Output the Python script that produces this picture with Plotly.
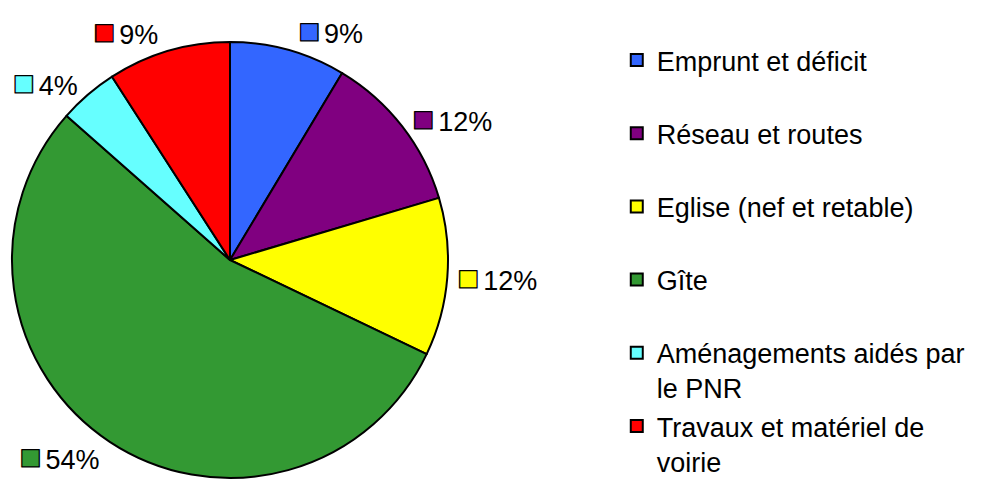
import plotly.graph_objects as go

labels = ["Emprunt et déficit", "Réseau et routes", "Eglise (nef et retable)", "Gîte",
          "Aménagements aidés par<br>le PNR", "Travaux et matériel de<br>voirie"]
values = [8.6, 11.8, 11.7, 54.4, 4.4, 9.1]
colors = ["#3366FF", "#800080", "#FFFF00", "#339933", "#66FFFF", "#FF0000"]

# pad single-line legend entries to two lines so every legend slot has the same height
legend_labels = [l if "<br>" in l else l + "<br> " for l in labels]
squares = ['<span style="font-size:36px;color:%s;stroke:black;stroke-width:1.3px">■</span>'
           '<span style="font-size:14px"> </span>' % c for c in colors]

fig = go.Figure(go.Pie(
    labels=legend_labels,
    values=values,
    text=squares,
    texttemplate="%{text}%{percent:.0%}",
    textposition="outside",
    sort=False,
    direction="clockwise",
    rotation=0,
    marker=dict(colors=colors, line=dict(color="black", width=2)),
    outsidetextfont=dict(color="black", size=27, family="Liberation Sans, Arial, sans-serif"),
    domain=dict(x=[12/990, 448/990], y=[8/486, 444/486]),
    hoverinfo="label+percent",
))

fig.update_layout(
    width=990, height=486,
    margin=dict(l=0, r=0, t=0, b=0),
    paper_bgcolor="white",
    font=dict(family="Liberation Sans, Arial, sans-serif", color="black", size=27),
    showlegend=True,
    legend=dict(x=0.623, y=0.926, xanchor="left", yanchor="top", valign="top",
                font=dict(size=27, color="black"), bgcolor="rgba(0,0,0,0)"),
)

fig.write_html("out.html", config={"displayModeBar": False},
               post_script="document.body.style.margin='0';")
